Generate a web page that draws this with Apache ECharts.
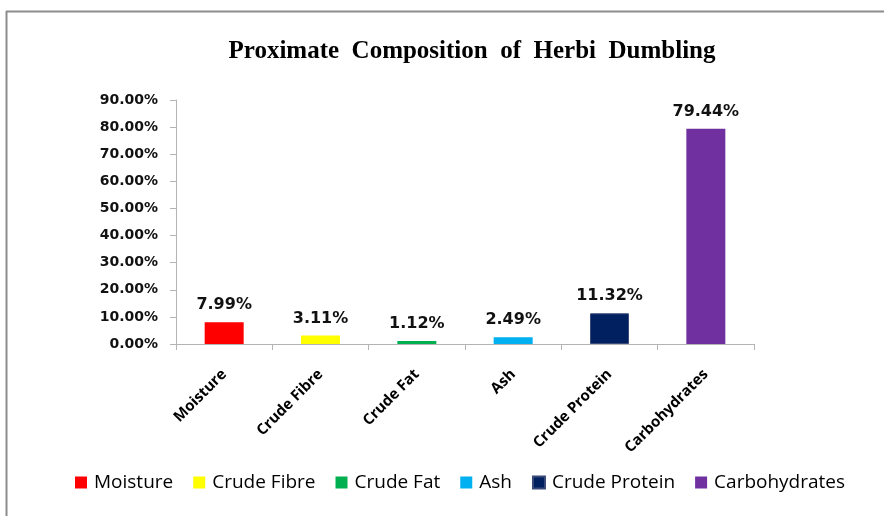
<!DOCTYPE html>
<html><head><meta charset="utf-8">
<script src="https://cdn.jsdelivr.net/npm/echarts@6/dist/echarts.min.js"></script>
<style>html,body{margin:0;padding:0;background:#fff}#c{width:884px;height:516px}</style>
</head><body><div id="c"></div>
<script>
const categories = ['Moisture','Crude Fibre','Crude Fat','Ash','Crude Protein','Carbohydrates'];
const values = [7.99, 3.11, 1.12, 2.49, 11.32, 79.44];
const colors = ['#FF0000','#FFFF00','#00B050','#00B0F0','#002060','#7030A0'];
const yTicks = [0,10,20,30,40,50,60,70,80,90];

const chart = echarts.init(document.getElementById('c'), null, {renderer:'canvas'});
const series = categories.map((name, i) => ({
  name: name,
  type: 'bar',
  barWidth: 39,
  barGap: '-100%',
  itemStyle: {color: colors[i], borderColor: i===4 ? '#3a4a7a' : colors[i], borderWidth: i===4?1:0},
  label: {show: true, position: 'top', distance: 9, formatter: p => p.value.toFixed(2) + '%',
          fontFamily: 'DejaVu Sans', fontWeight: 'bold', fontSize: 16, color: '#111'},
  data: categories.map((c, j) => j === i ? values[i] : null)
}));
chart.setOption({
  animation: false,
  backgroundColor: '#fff',
  title: {text: 'Proximate  Composition  of  Herbi  Dumbling', left: 467, textAlign: 'center', top: 34,
          textStyle: {fontFamily: 'Liberation Serif', fontWeight: 'bold', fontSize: 25, color: '#000'}},
  grid: {left: 176, right: 130, top: 100, bottom: 172, containLabel: false},
  legend: {bottom: 19, left: 70, itemWidth: 12, itemHeight: 12, itemGap: 20, icon: 'rect',
           textStyle: {fontFamily: 'Open Sans', fontSize: 19, color: '#000', padding: [0,0,0,2]},
           data: categories},
  xAxis: {type: 'category', data: categories,
          axisLine: {lineStyle: {color: '#b4b4b4', width: 1}},
          axisTick: {show: true, alignWithLabel: false, length: 6, lineStyle: {color: '#b4b4b4'}},
          axisLabel: {rotate: 45, interval: 0, margin: 28, fontFamily: 'Open Sans', fontWeight: 'bold', fontSize: 15, color: '#000'}},
  yAxis: {type: 'value', min: 0, max: 90, interval: 10,
          splitLine: {show: false},
          axisLine: {show: true, lineStyle: {color: '#b4b4b4'}},
          axisTick: {show: true, length: 6, lineStyle: {color: '#b4b4b4'}},
          axisLabel: {formatter: v => v.toFixed(2) + '%', margin: 18, fontFamily: 'DejaVu Sans', fontWeight: 'bold', fontSize: 14, color: '#111'}},
  graphic: [
    {type: 'line', shape: {x1: 6, y1: 11.5, x2: 884, y2: 11.5}, style: {stroke: '#8c8c8c', lineWidth: 2}},
    {type: 'line', shape: {x1: 6.5, y1: 11, x2: 6.5, y2: 516}, style: {stroke: '#8c8c8c', lineWidth: 2}}
  ],
  series: series
});
</script></body></html>
